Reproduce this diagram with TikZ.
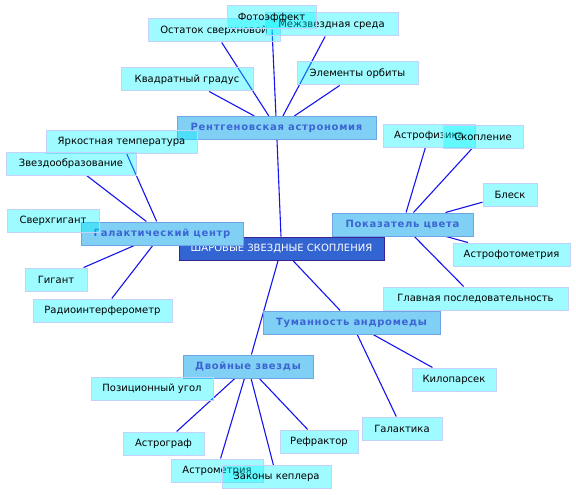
\documentclass[tikz,border=0pt]{standalone}
\usepackage{fontspec}
\setmainfont{DejaVu Sans}
\usetikzlibrary{backgrounds}

\definecolor{leaffill}{RGB}{0,245,255}
\definecolor{leafline}{RGB}{195,210,250}
\definecolor{branchfill}{RGB}{128,208,245}
\definecolor{branchline}{RGB}{110,165,230}
\definecolor{branchtext}{RGB}{60,100,210}
\definecolor{hubfill}{RGB}{50,100,210}
\definecolor{hubline}{RGB}{55,35,150}
\definecolor{linkblue}{RGB}{20,20,240}

\tikzset{
 leaf/.style={draw=leafline, line width=1pt, fill=leaffill, fill opacity=0.38, text opacity=1,
   minimum height=23pt, inner sep=0pt, font=\fontsize{10}{12}\selectfont},
 branch/.style={draw=branchline, line width=1pt, fill=branchfill, text=branchtext,
   minimum height=23pt, inner sep=0pt, font=\fontsize{10}{12}\selectfont\bfseries\addfontfeature{LetterSpace=7}},
 hub/.style={draw=hubline, line width=1pt, fill=hubfill, text=white,
   minimum height=23pt, inner sep=0pt, font=\fontsize{10}{12}\selectfont},
 link/.style={draw=linkblue, line width=1.1pt}
}

\begin{document}
\begin{tikzpicture}[x=1pt,y=1pt,yscale=-1,xscale=1]
 \useasboundingbox (0,0) rectangle (576,495);

 % centre
 \node [hub, minimum width=205pt] (hub) at (281.5,248.5) {ШАРОВЫЕ ЗВЕЗДНЫЕ СКОПЛЕНИЯ};

 % branches
 \node [branch, minimum width=199pt] (rentg) at (276.5,128) {Рентгеновская астрономия};
 \node [branch, minimum width=162pt] (galakt) at (162,233.5) {Галактический центр};
 \node [branch, minimum width=141pt] (pokaz) at (402.5,224.5) {Показатель цвета};
 \node [branch, minimum width=177pt] (tuman) at (351.5,322.5) {Туманность андромеды};
 \node [branch, minimum width=130pt] (dvoin) at (248,366.5) {Двойные звезды};

 % leaves of rentg
 \node [leaf, minimum width=132pt] (ostatok) at (214,30.5) {Остаток сверхновой};
 \node [leaf, minimum width=133pt] (mezhzv) at (331.5,24.5) {Межзвездная среда};
 \node [leaf, minimum width=89pt] (foto) at (271.5,17.5) {Фотоэффект};
 \node [leaf, minimum width=132pt] (kvadrat) at (187,79.5) {Квадратный градус};
 \node [leaf, minimum width=121pt] (elem) at (357.5,73.5) {Элементы орбиты};

 % leaves of galakt
 \node [leaf, minimum width=151pt] (yarkost) at (121.5,142) {Яркостная температура};
 \node [leaf, minimum width=130pt] (zvezdoobr) at (71,163.5) {Звездообразование};
 \node [leaf, minimum width=92pt] (sverhgig) at (53,220.5) {Сверхгигант};
 \node [leaf, minimum width=62pt] (gigant) at (56,279.5) {Гигант};
 \node [leaf, minimum width=139pt] (radio) at (102.5,310.5) {Радиоинтерферометр};

 % leaves of pokaz
 \node [leaf, minimum width=92pt] (astrofiz) at (429,135.5) {Астрофизика};
 \node [leaf, minimum width=80pt] (skoplen) at (483,136.5) {Скопление};
 \node [leaf, minimum width=54pt] (blesk) at (510,194.5) {Блеск};
 \node [leaf, minimum width=117pt] (astrofot) at (511.5,254.5) {Астрофотометрия};
 \node [leaf, minimum width=185pt] (glavn) at (475.5,298.5) {Главная последовательность};

 % leaves of tuman
 \node [leaf, minimum width=84pt] (kilop) at (454,379.5) {Килопарсек};
 \node [leaf, minimum width=80pt] (galaktika) at (402,428.5) {Галактика};

 % leaves of dvoin
 \node [leaf, minimum width=122pt] (pozic) at (152,388.5) {Позиционный угол};
 \node [leaf, minimum width=81pt] (astrograf) at (163.5,443.5) {Астрограф};
 \node [leaf, minimum width=78pt] (refr) at (319,441.5) {Рефрактор};
 \node [leaf, minimum width=92pt] (astrometr) at (217,470.5) {Астрометрия};
 \node [leaf, minimum width=109pt] (kepler) at (276.5,477) {Законы кеплера};

 % connectors
 \begin{scope}[on background layer]
 \foreach \branchname in {rentg,galakt,pokaz,tuman,dvoin}
   \draw [link] (hub) -- (\branchname);
 \foreach \leafname in {foto,ostatok,mezhzv,kvadrat,elem}
   \draw [link] (rentg) -- (\leafname);
 \foreach \leafname in {yarkost,zvezdoobr,gigant,radio}
   \draw [link] (galakt) -- (\leafname);
 \foreach \leafname in {astrofiz,skoplen,blesk,astrofot,glavn}
   \draw [link] (pokaz) -- (\leafname);
 \foreach \leafname in {kilop,galaktika}
   \draw [link] (tuman) -- (\leafname);
 \foreach \leafname in {pozic,astrograf,refr,astrometr,kepler}
   \draw [link] (dvoin) -- (\leafname);
 \end{scope}
\end{tikzpicture}
\end{document}
